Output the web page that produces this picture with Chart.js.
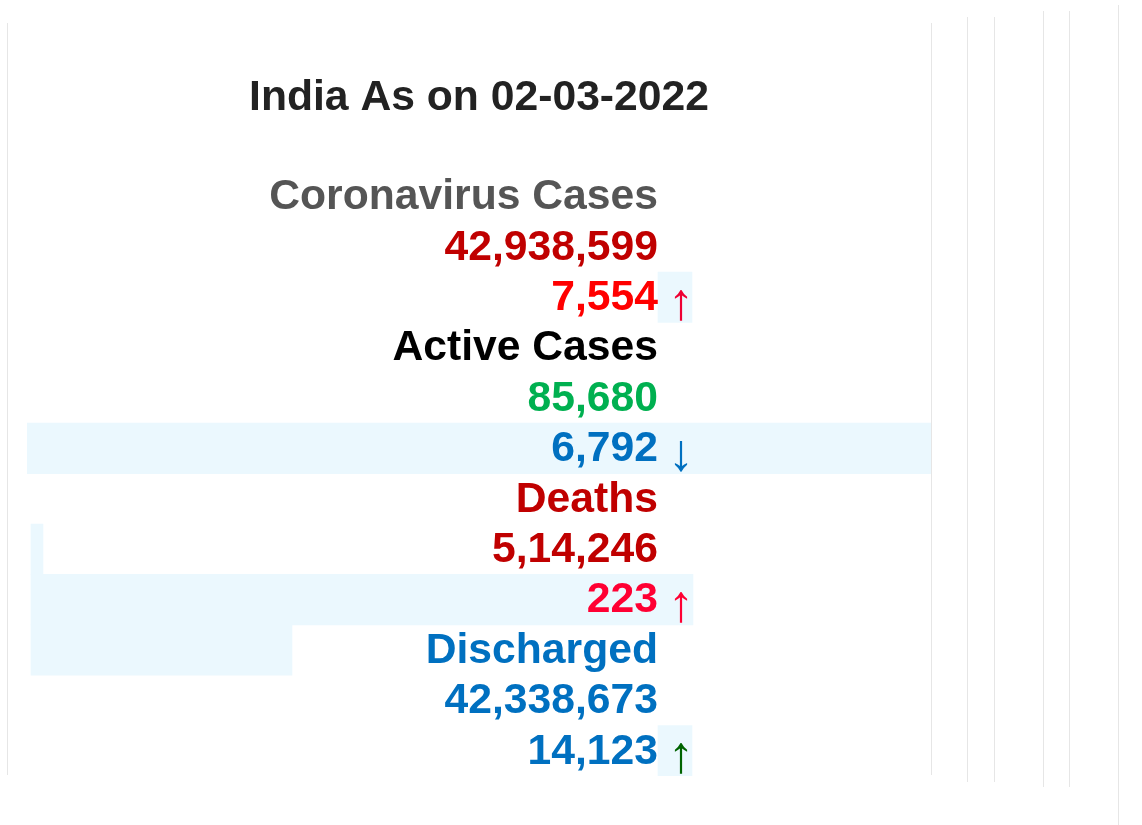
<!DOCTYPE html>
<html>
<head>
<meta charset="utf-8">
<script src="https://cdn.jsdelivr.net/npm/chart.js@4"></script>
<style>
  html, body { margin: 0; padding: 0; background: #fff; overflow: hidden; }
  #wrap { position: absolute; left: 0; top: 0; width: 1142px; height: 825px; }
  .vline { position: absolute; width: 1px; background: #e6e6e6; }
</style>
</head>
<body>
<div id="wrap"><canvas id="panel"></canvas></div>
<div class="vline" style="left:7px;top:23px;height:752px"></div>
<div class="vline" style="left:931px;top:23px;height:752px"></div>
<div class="vline" style="left:967px;top:17px;height:765px"></div>
<div class="vline" style="left:994px;top:17px;height:765px"></div>
<div class="vline" style="left:1043px;top:11px;height:776px"></div>
<div class="vline" style="left:1069px;top:11px;height:776px"></div>
<div class="vline" style="left:1118px;top:5px;height:820px"></div>
<script>
// data
const reportDate = '02-03-2022';
const categories = ['Coronavirus Cases', 'Active Cases', 'Deaths', 'Discharged'];
const totals = [42938599, 85680, 514246, 42338673];
const dailyChange = [7554, -6792, 223, 14123];
const numberLocales = ['en-US', 'en-US', 'en-IN', 'en-US'];

// styles
const labelColors = ['#555555', '#000000', '#c00000', '#0070c0'];
const totalColors = ['#c00000', '#00b050', '#c00000', '#0070c0'];
const changeColors = ['#ff0000', '#0070c0', '#ff0033', '#0070c0'];
const arrowColors = ['#ee0033', '#0070c0', '#ff0033', '#006400'];

// each category takes three rows: label, total, change
const rows = [];
categories.forEach((c, i) => {
  rows.push({ kind: 'label', cat: i });
  rows.push({ kind: 'total', cat: i });
  rows.push({ kind: 'change', cat: i });
});
const rowLabels = rows.map(r => categories[r.cat] + ' ' + r.kind);

// light blue cell highlights (page x from..to) per row
const highlightSpans = [null, null, [658, 692], null, null, [27, 931], null, [31, 43], [31, 693], [31, 292], null, [658, 692]];
const textRight = 658;
const arrowCenter = 681;
const fontFamily = 'Arial, "Liberation Sans", Helvetica, sans-serif';
const fontSize = 42.67;
const boldFont = 'bold ' + fontSize + 'px ' + fontFamily;
const arrowFont = '52px ' + fontFamily;

const rowText = {
  id: 'rowText',
  afterDatasetsDraw(chart) {
    const ctx = chart.ctx;
    const xs = chart.scales.x, ys = chart.scales.y;
    ctx.save();
    rows.forEach((r, i) => {
      const y = ys.getPixelForValue(i) + 1;
      const x = xs.getPixelForValue(textRight);
      ctx.font = boldFont;
      ctx.textAlign = 'right';
      ctx.textBaseline = 'middle';
      if (r.kind === 'label') {
        ctx.fillStyle = labelColors[r.cat];
        ctx.fillText(categories[r.cat], x, y);
      } else if (r.kind === 'total') {
        ctx.fillStyle = totalColors[r.cat];
        ctx.fillText(totals[r.cat].toLocaleString(numberLocales[r.cat]), x, y);
      } else {
        const v = dailyChange[r.cat];
        ctx.fillStyle = changeColors[r.cat];
        ctx.fillText(Math.abs(v).toLocaleString(numberLocales[r.cat]), x, y);
        ctx.font = arrowFont;
        ctx.textAlign = 'center';
        ctx.fillStyle = arrowColors[r.cat];
        ctx.fillText(v >= 0 ? '\u2191' : '\u2193', xs.getPixelForValue(arrowCenter), y + 6);
      }
    });
    ctx.restore();
  }
};

new Chart(document.getElementById('panel'), {
  type: 'bar',
  data: {
    labels: rowLabels,
    datasets: [{
      data: highlightSpans,
      backgroundColor: '#ebf8fe',
      borderWidth: 0,
      categoryPercentage: 1,
      barPercentage: 1
    }]
  },
  options: {
    indexAxis: 'y',
    responsive: true,
    maintainAspectRatio: false,
    animation: false,
    layout: { padding: { left: 27, right: 211, top: 62, bottom: 49 } },
    scales: {
      x: { display: false, min: 27, max: 931 },
      y: { display: false }
    },
    plugins: {
      legend: { display: false },
      tooltip: { enabled: false },
      title: {
        display: true,
        text: 'India As on ' + reportDate,
        color: '#222222',
        font: { family: fontFamily, size: fontSize, weight: 'bold' },
        padding: { top: 11, bottom: 47 }
      }
    }
  },
  plugins: [rowText]
});
</script>
</body>
</html>
